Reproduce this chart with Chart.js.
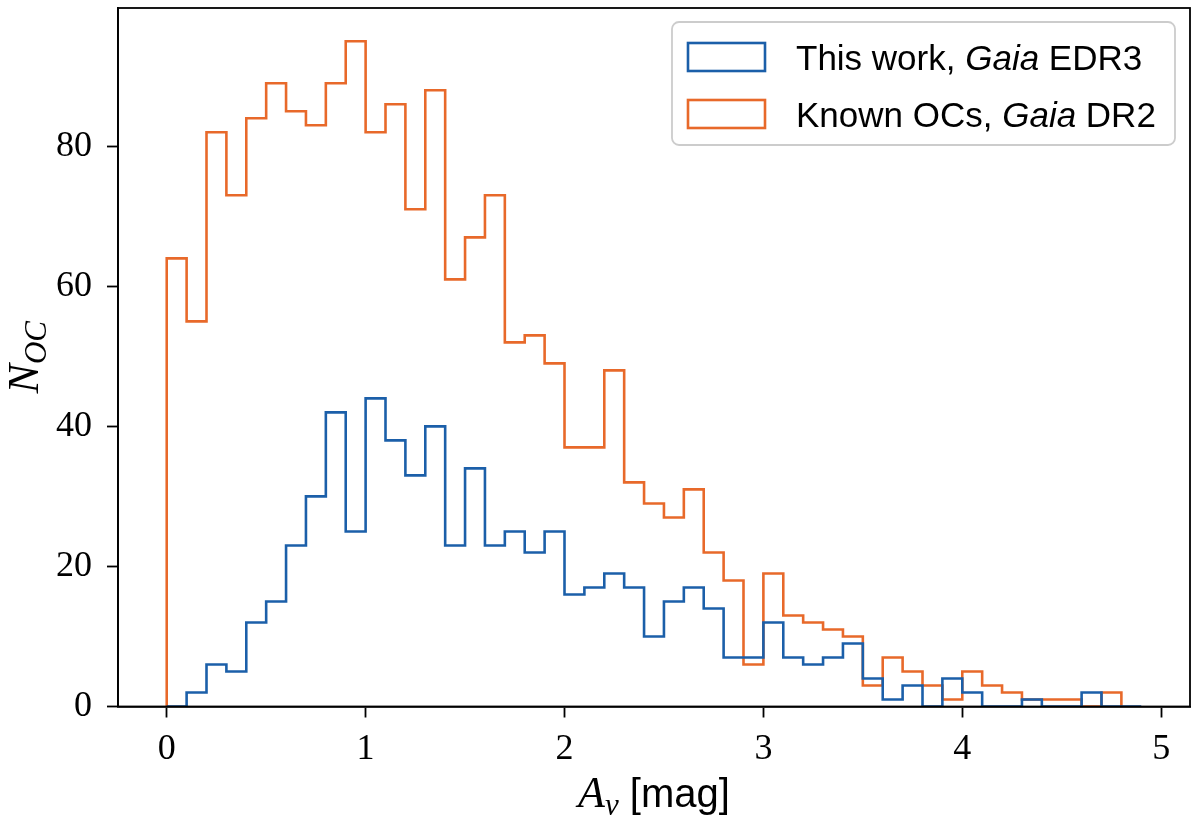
<!DOCTYPE html>
<html>
<head>
<meta charset="utf-8">
<script src="https://cdn.jsdelivr.net/npm/chart.js@4.4.1/dist/chart.umd.min.js"></script>
<style>
  html, body { margin: 0; padding: 0; background: #ffffff; }
  #wrap { width: 1200px; height: 831px; position: relative; }
</style>
</head>
<body>
<div id="wrap"><canvas id="c" width="1200" height="831"></canvas></div>
<script>
// ---- data ----
const binEdges = [0.0, 0.1, 0.2, 0.3, 0.4, 0.5, 0.6, 0.7, 0.8, 0.9,
                  1.0, 1.1, 1.2, 1.3, 1.4, 1.5, 1.6, 1.7, 1.8, 1.9,
                  2.0, 2.1, 2.2, 2.3, 2.4, 2.5, 2.6, 2.7, 2.8, 2.9,
                  3.0, 3.1, 3.2, 3.3, 3.4, 3.5, 3.6, 3.7, 3.8, 3.9,
                  4.0, 4.1, 4.2, 4.3, 4.4, 4.5, 4.6, 4.7, 4.8, 4.9];
const thisWorkEDR3 = [0, 2, 6, 5, 12, 15, 23, 30, 42, 25,
                      44, 38, 33, 40, 23, 34, 23, 25, 22, 25,
                      16, 17, 19, 17, 10, 15, 17, 14, 7, 7,
                      12, 7, 6, 7, 9, 4, 1, 3, 0, 4,
                      2, 0, 0, 1, 0, 0, 2, 0, 0];
const knownOCsDR2 = [64, 55, 82, 73, 84, 89, 85, 83, 89, 95,
                     82, 86, 71, 88, 61, 67, 73, 52, 53, 49,
                     37, 37, 48, 32, 29, 27, 31, 22, 18, 6,
                     19, 13, 12, 11, 10, 3, 7, 5, 3, 1,
                     5, 3, 2, 1, 1, 1, 0, 2];
const xTickValues = [0, 1, 2, 3, 4, 5];
const yTickValues = [0, 20, 40, 60, 80];
const seriesLabels = ["This work, |Gaia| EDR3", "Known OCs, |Gaia| DR2"];

// ---- styles ----
const BLUE = '#1b5fa9';
const ORANGE = '#e8692a';

function stepPoints(edges, counts) {
  const pts = [{x: edges[0], y: 0}];
  for (let i = 0; i < counts.length; i++) pts.push({x: edges[i], y: counts[i]});
  pts.push({x: edges[counts.length], y: 0});
  return pts;
}

const decor = {
  id: 'decor',
  afterDraw(chart) {
    const ctx = chart.ctx;
    const a = chart.chartArea;
    ctx.save();
    // frame
    ctx.strokeStyle = '#000';
    ctx.lineWidth = 1.8;
    ctx.strokeRect(a.left, a.top, a.right - a.left, a.bottom - a.top);

    // legend
    const lx = 672, ly = 22, lw = 503, lh = 123, r = 7;
    ctx.beginPath();
    ctx.moveTo(lx + r, ly);
    ctx.arcTo(lx + lw, ly, lx + lw, ly + lh, r);
    ctx.arcTo(lx + lw, ly + lh, lx, ly + lh, r);
    ctx.arcTo(lx, ly + lh, lx, ly, r);
    ctx.arcTo(lx, ly, lx + lw, ly, r);
    ctx.closePath();
    ctx.fillStyle = 'rgba(255,255,255,0.8)';
    ctx.fill();
    ctx.strokeStyle = '#cccccc';
    ctx.lineWidth = 1.8;
    ctx.stroke();

    const colors = [BLUE, ORANGE];
    const rowsY = [57, 114];
    const fs = 35;
    for (let i = 0; i < seriesLabels.length; i++) {
      ctx.strokeStyle = colors[i];
      ctx.lineWidth = 2.6;
      ctx.strokeRect(688, rowsY[i] - 14, 77, 28);
      const parts = seriesLabels[i].split('|');
      let x = 796;
      ctx.fillStyle = '#000';
      ctx.textBaseline = 'alphabetic';
      ctx.textAlign = 'left';
      parts.forEach((p, k) => {
        ctx.font = (k % 2 === 1 ? 'italic ' : '') + fs + 'px "Liberation Sans", Arial, sans-serif';
        ctx.fillText(p, x, rowsY[i] + 13);
        x += ctx.measureText(p).width;
      });
    }

    // x axis title: A_v [mag]
    const segs = [
      {t: 'A', f: 'italic 44px "Liberation Serif", serif', dy: 0},
      {t: 'v', f: 'italic 31px "Liberation Serif", serif', dy: 8},
      {t: ' [mag]', f: '40px "Liberation Sans", Arial, sans-serif', dy: 0}
    ];
    let tw = 0;
    segs.forEach(s => { ctx.font = s.f; s.w = ctx.measureText(s.t).width; tw += s.w; });
    let sx = (a.left + a.right) / 2 - tw / 2;
    const by = 807;
    ctx.fillStyle = '#000';
    segs.forEach(s => { ctx.font = s.f; ctx.fillText(s.t, sx, by + s.dy); sx += s.w; });

    // y axis title: N_OC
    ctx.save();
    ctx.translate(38, (a.top + a.bottom) / 2);
    ctx.rotate(-Math.PI / 2);
    const ysegs = [
      {t: 'N', f: 'italic 44px "Liberation Serif", serif', dy: 0},
      {t: 'OC', f: 'italic 31px "Liberation Serif", serif', dy: 8}
    ];
    let ytw = 0;
    ysegs.forEach(s => { ctx.font = s.f; s.w = ctx.measureText(s.t).width; ytw += s.w; });
    let yx = -ytw / 2;
    ysegs.forEach(s => { ctx.font = s.f; ctx.fillText(s.t, yx, s.dy); yx += s.w; });
    ctx.restore();

    ctx.restore();
  }
};

new Chart(document.getElementById('c'), {
  type: 'line',
  data: {
    datasets: [
      {
        label: seriesLabels[0].replace(/\|/g, ''),
        data: stepPoints(binEdges, thisWorkEDR3),
        borderColor: BLUE,
        borderWidth: 2.6,
        stepped: 'before',
        pointRadius: 0,
        fill: false
      },
      {
        label: seriesLabels[1].replace(/\|/g, ''),
        data: stepPoints(binEdges, knownOCsDR2),
        borderColor: ORANGE,
        borderWidth: 2.6,
        stepped: 'before',
        pointRadius: 0,
        fill: false
      }
    ]
  },
  options: {
    responsive: false,
    animation: false,
    devicePixelRatio: 1,
    layout: { padding: { top: 8, right: 10, left: 0, bottom: 0 } },
    plugins: { legend: { display: false }, tooltip: { enabled: false } },
    scales: {
      x: {
        type: 'linear',
        min: -0.245,
        max: 5.145,
        afterBuildTicks: s => { s.ticks = xTickValues.map(v => ({value: v})); },
        afterFit: s => { s.height = 124.5; s.paddingLeft = 0; s.paddingRight = 0; },
        grid: { drawOnChartArea: false, tickLength: 11, tickColor: '#000', tickWidth: 1.8 },
        border: { color: '#000', width: 1.8 },
        ticks: {
          color: '#000',
          padding: 10,
          maxRotation: 0,
          font: { family: '"Liberation Serif", serif', size: 36 },
          callback: v => String(v)
        }
      },
      y: {
        type: 'linear',
        min: 0,
        max: 99.75,
        afterBuildTicks: s => { s.ticks = yTickValues.map(v => ({value: v})); },
        afterFit: s => { s.width = 118; s.paddingTop = 0; s.paddingBottom = 0; },
        grid: { drawOnChartArea: false, tickLength: 11, tickColor: '#000', tickWidth: 1.8 },
        border: { color: '#000', width: 1.8 },
        ticks: {
          color: '#000',
          padding: 15,
          font: { family: '"Liberation Serif", serif', size: 36 },
          callback: v => String(v)
        }
      }
    }
  },
  plugins: [decor]
});
</script>
</body>
</html>
